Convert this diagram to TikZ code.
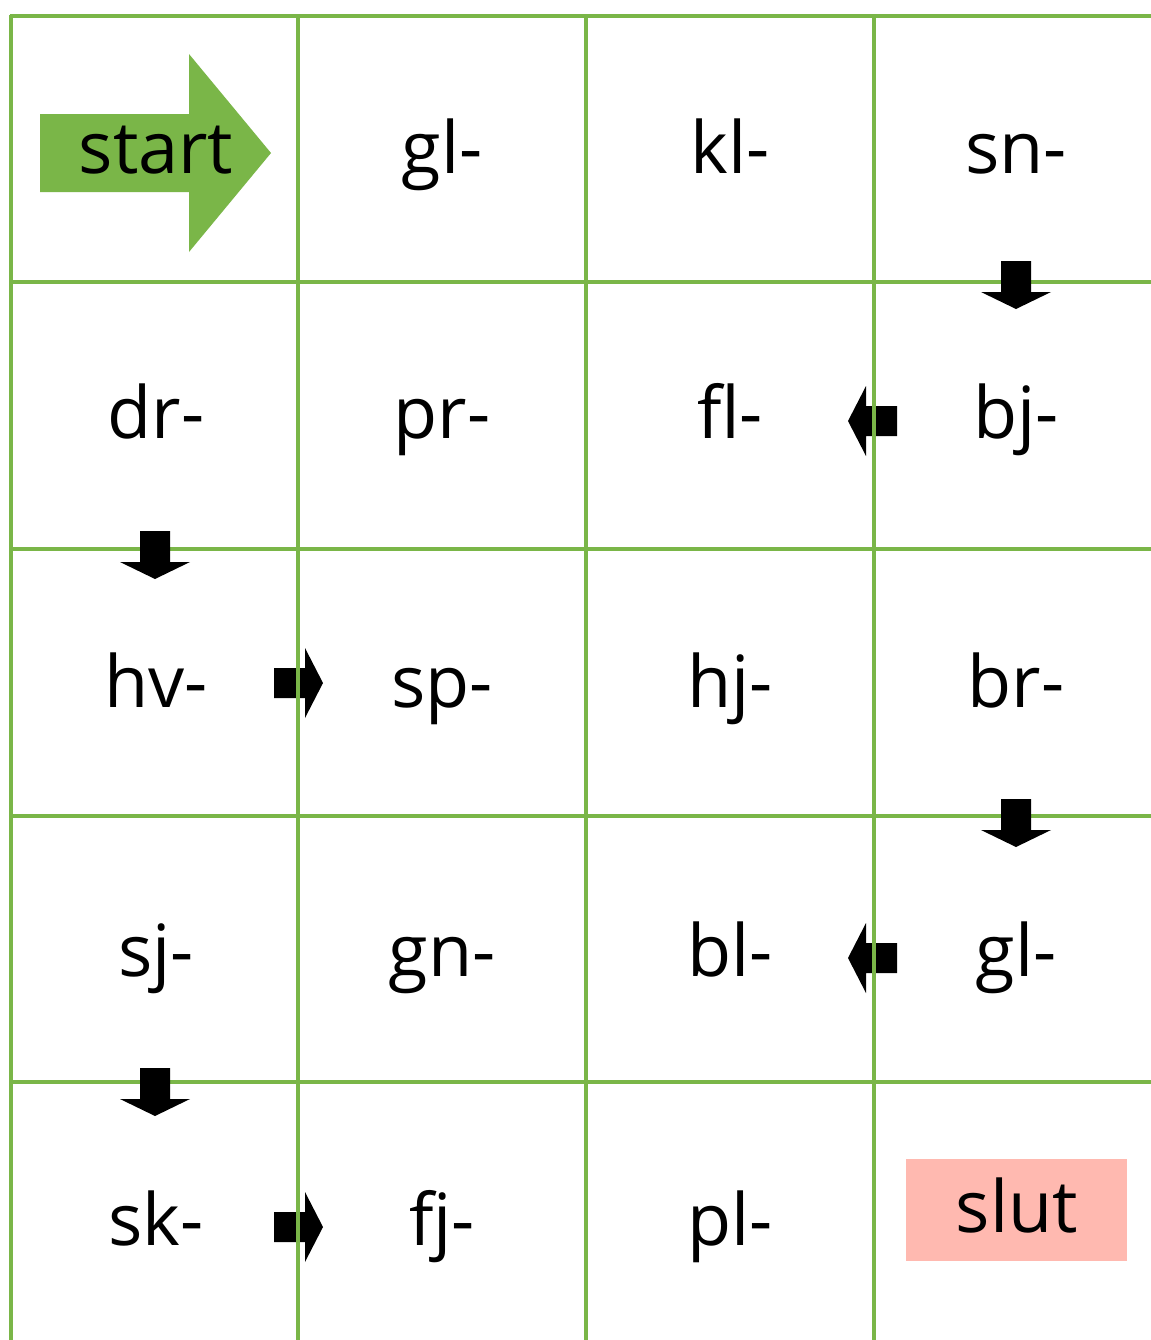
\documentclass[tikz,border=0pt]{standalone}
\usepackage{fontspec}
\setmainfont{Open Sans}
\definecolor{gridgreen}{HTML}{7AB648}
\definecolor{slutpink}{HTML}{FFB9B0}
\tikzset{
  gridline/.style={draw=gridgreen, line width=2pt},
  lbl/.style={anchor=base, inner sep=0pt, font=\fontsize{36}{40}\selectfont},
  blockarrow/.style={fill=black, draw=none},
}
\begin{document}
\begin{tikzpicture}[x=0.5pt,y=-0.5pt]
\useasboundingbox (0,0) rectangle (1151,1340);
\fill[white] (0,0) rectangle (1151,1340);
% horizontal grid lines
\foreach \yy in {16,282,549,816,1082}
  \draw[gridline] (10,\yy) -- (1151,\yy);
% down arrows
\foreach \cx/\ty in {1016/261, 155/531, 1016/799, 155/1068}
  \fill[blockarrow] (\cx-15,\ty) -- (\cx+15,\ty) -- (\cx+15,\ty+31) -- (\cx+35,\ty+31)
     -- (\cx,\ty+48) -- (\cx-35,\ty+31) -- (\cx-15,\ty+31) -- cycle;
% left arrows
\foreach \cy in {421, 958}
  \fill[blockarrow] (897,\cy-15) -- (866,\cy-15) -- (866,\cy-35) -- (848,\cy)
     -- (866,\cy+35) -- (866,\cy+15) -- (897,\cy+15) -- cycle;
% right arrows
\foreach \cy in {683, 1227}
  \fill[blockarrow] (274,\cy-15) -- (305,\cy-15) -- (305,\cy-35) -- (323,\cy)
     -- (305,\cy+35) -- (305,\cy+15) -- (274,\cy+15) -- cycle;
% vertical grid lines
\foreach \xx in {11,298,586,874}
  \draw[gridline] (\xx,15) -- (\xx,1340);
% start arrow
\fill[gridgreen] (40,114) -- (189,114) -- (189,54) -- (271,153) -- (189,252)
   -- (189,192) -- (40,192) -- cycle;
% slut box
\fill[slutpink] (906,1159) rectangle (1127,1261);
% labels
\node[lbl] (start) at (156,173) {start};
\node[lbl] (r1c2) at (442,173) {gl-};
\node[lbl] (r1c3) at (730,173) {kl-};
\node[lbl] (r1c4) at (1016,173) {sn-};
\node[lbl] (r2c1) at (156,438) {dr-};
\node[lbl] (r2c2) at (442,438) {pr-};
\node[lbl] (r2c3) at (730,438) {fl-};
\node[lbl] (r2c4) at (1016,438) {bj-};
\node[lbl] (r3c1) at (156,707) {hv-};
\node[lbl] (r3c2) at (442,707) {sp-};
\node[lbl] (r3c3) at (730,707) {hj-};
\node[lbl] (r3c4) at (1016,707) {br-};
\node[lbl] (r4c1) at (156,976) {sj-};
\node[lbl] (r4c2) at (442,976) {gn-};
\node[lbl] (r4c3) at (730,976) {bl-};
\node[lbl] (r4c4) at (1016,976) {gl-};
\node[lbl] (r5c1) at (156,1245) {sk-};
\node[lbl] (r5c2) at (442,1245) {fj-};
\node[lbl] (r5c3) at (730,1245) {pl-};
\node[lbl] (slut) at (1017,1232) {slut};
\end{tikzpicture}
\end{document}
